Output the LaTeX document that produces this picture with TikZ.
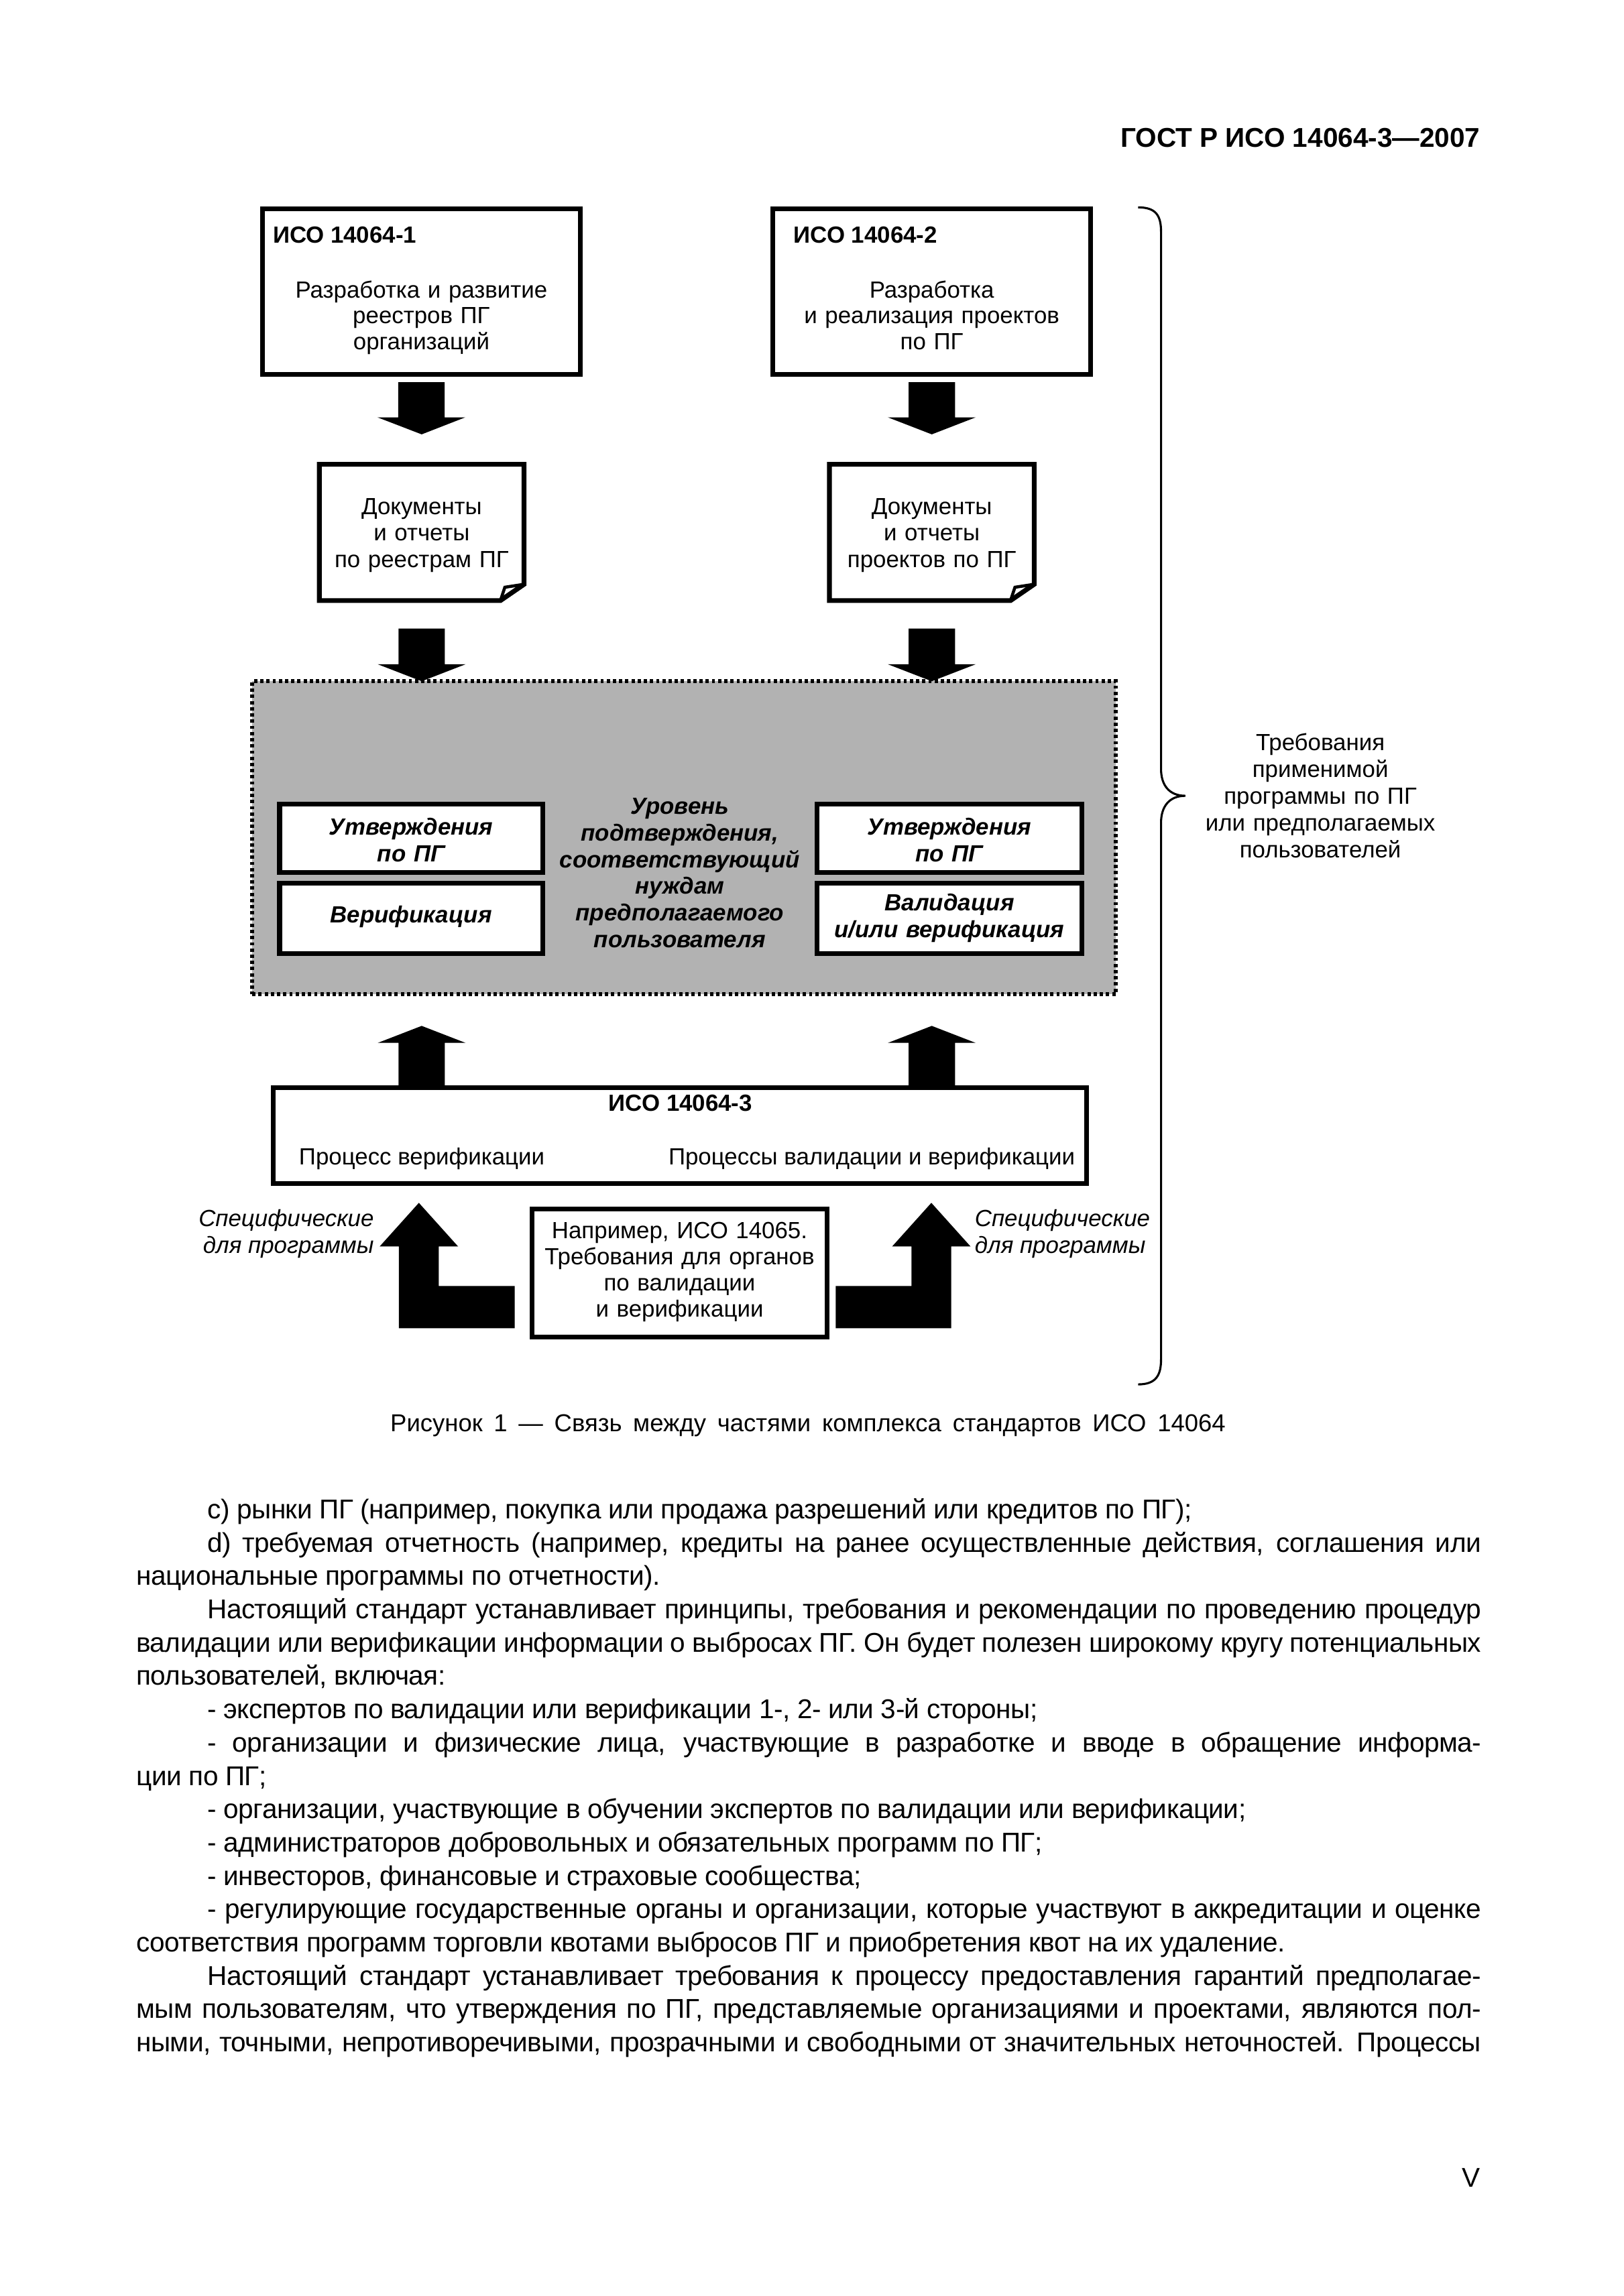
\documentclass[tikz,border=0pt]{standalone}
\usepackage{fontspec}
\setmainfont{Liberation Sans}
\newfontfamily\bodyfam[LetterSpace=-1.3]{Liberation Sans}
\usetikzlibrary{calc}

\definecolor{levelgray}{RGB}{178,178,178}
\newdimen\pxu
\pxu=0.190909mm
\newcommand\dfont{\fontsize{8.6}{9.8}\selectfont}
\newcommand\bodyfont{\bodyfam\fontsize{10}{12.26}\selectfont}
\newcommand\bodyindent{\hspace*{9.2mm}}
\newcommand\jl[1]{\hbox to\hsize{#1}}
\newcommand\lastl[1]{\hbox{#1}}
% block arrow: start, tip, signed head length
\newcommand\fatarrow[3]{%
  \fill let \p1=(#1), \p2=(#2) in
    (\x1-3mm,\y1) -- (\x1-3mm,\y2+#3) -- (\x1-5.68mm,\y2+#3) -- (\x2,\y2)
    -- (\x1+5.68mm,\y2+#3) -- (\x1+3mm,\y2+#3) -- (\x1+3mm,\y1) -- cycle;}

\tikzset{
  stdbox/.style={draw, line width=0.62mm, inner sep=0, outer sep=0},
  graybox/.style={draw, fill=levelgray, line width=0.5mm, dash pattern=on 0.42mm off 0.38mm, inner sep=0, outer sep=0},
  boxtext/.style={inner sep=0, font=\dfont, align=center, text width=45mm},
  doc/.style={line width=0.62mm, line join=miter},
}

\begin{document}
\begin{tikzpicture}[x=\pxu,y=-\pxu]
\fill[white] (0,0) rectangle (1100,1555.7);
\useasboundingbox (0,0) rectangle (1100,1555.7);

\node[anchor=base east, inner sep=0, font=\fontsize{10}{12}\selectfont\bfseries] (gost) at (1003,99.5) {ГОСТ Р ИСО 14064-3—2007};

% top boxes
\node[stdbox, minimum width=215.5*\pxu, minimum height=112.1*\pxu] (iso1) at (285.45,197.45) {};
\node[stdbox, minimum width=215.5*\pxu, minimum height=112.1*\pxu] (iso2) at (631.2,197.45) {};
\node[anchor=base west, inner sep=0, font=\dfont\bfseries] (iso1t) at (184.5,164.5) {ИСО 14064-1};
\node[anchor=base west, inner sep=0, font=\dfont\bfseries] (iso2t) at (537.3,164.5) {ИСО 14064-2};
\node[boxtext, anchor=base, font=\fontsize{8.6}{9.6}\selectfont] (iso1x) at (285.45,201.7) {Разработка и развитие\\реестров ПГ\\организаций};
\node[boxtext, anchor=base, font=\fontsize{8.6}{9.6}\selectfont] (iso2x) at (631.2,201.7) {Разработка\\и реализация проектов\\по ПГ};

% documents
\node[inner sep=0, outer sep=0, minimum width=138.7*\pxu, minimum height=92.3*\pxu] (docA) at (285.65,360.75) {};
\node[inner sep=0, outer sep=0, minimum width=138.7*\pxu, minimum height=92.3*\pxu] (docB) at (631.2,360.75) {};
\foreach \d in {docA,docB}{
  \draw[doc] (\d.north west) -- (\d.north east) -- ($(\d.south east)+(0,-11)$)
    -- ($(\d.south east)+(-16,0)$) -- (\d.south west) -- cycle;
  \draw[line width=0.4mm] ($(\d.south east)+(-16,0)$) -- ($(\d.south east)+(-13,-9)$) -- ($(\d.south east)+(0,-11)$);
}
\node[boxtext, anchor=base] (docAx) at (285.65,348.4) {Документы\\и отчеты\\по реестрам ПГ};
\node[boxtext, anchor=base] (docBx) at (631.2,348.4) {Документы\\и отчеты\\проектов по ПГ};

% level of assurance
\node[graybox, minimum width=585*\pxu, minimum height=212.1*\pxu] (level) at (463.4,567.65) {};
\node[stdbox, fill=white, minimum width=178.2*\pxu, minimum height=46.4*\pxu] (claimA) at (278.5,568.1) {};
\node[stdbox, fill=white, minimum width=178.2*\pxu, minimum height=47.6*\pxu] (verA) at (278.5,622.2) {};
\node[stdbox, fill=white, minimum width=179.5*\pxu, minimum height=46.4*\pxu] (claimB) at (643.15,568.1) {};
\node[stdbox, fill=white, minimum width=179.5*\pxu, minimum height=47.6*\pxu] (valB) at (643.15,622.2) {};
\node[boxtext, anchor=base, font=\dfont\bfseries\itshape] (levelx) at (460.5,551.7) {Уровень\\подтверждения,\\соответствующий\\нуждам\\предполагаемого\\пользователя};
\node[boxtext, anchor=base, font=\fontsize{8.6}{9.9}\selectfont\bfseries\itshape] (claimAx) at (278.5,565.5) {Утверждения\\по ПГ};
\node[boxtext, anchor=base, font=\dfont\bfseries\itshape] (verAx) at (278.5,625.3) {Верификация};
\node[boxtext, anchor=base, font=\fontsize{8.6}{9.9}\selectfont\bfseries\itshape] (claimBx) at (643.15,565.5) {Утверждения\\по ПГ};
\node[boxtext, anchor=base, font=\fontsize{8.6}{9.9}\selectfont\bfseries\itshape] (valBx) at (643.15,616.9) {Валидация\\и/или верификация};

% ISO 14064-3
\node[stdbox, minimum width=551*\pxu, minimum height=64.8*\pxu] (iso3) at (460.4,769.5) {};
\node[anchor=base, inner sep=0, font=\dfont\bfseries] (iso3t) at (461,753) {ИСО 14064-3};
\node[anchor=base west, inner sep=0, font=\dfont] (procA) at (202.2,789) {Процесс верификации};
\node[anchor=base east, inner sep=0, font=\dfont] (procB) at (728.5,789) {Процессы валидации и верификации};

% ISO 14065
\node[stdbox, minimum width=199.5*\pxu, minimum height=86.7*\pxu] (iso65) at (460.35,862.55) {};
\node[boxtext, anchor=base, font=\fontsize{8.6}{9.6}\selectfont] (iso65x) at (460.35,839.3) {Например, ИСО 14065.\\Требования для органов\\по валидации\\и верификации};
\node[anchor=base east, inner sep=0, font=\fontsize{8.6}{9.7}\selectfont\itshape, align=right] (specA) at (253.6,849) {Специфические\\для программы};
\node[anchor=base west, inner sep=0, font=\fontsize{8.6}{9.7}\selectfont\itshape, align=left] (specB) at (660,849) {Специфические\\для программы};

% block arrows
\fatarrow{$(iso1.south)+(0,5.5)$}{$(docA.north)+(0,-20.3)$}{2.2mm}
\fatarrow{$(iso2.south)+(0,5.5)$}{$(docB.north)+(0,-20.3)$}{2.2mm}
\fatarrow{$(docA.south)+(0,19)$}{docA.south |- level.north}{2.2mm}
\fatarrow{$(docB.south)+(0,19)$}{docB.south |- level.north}{2.2mm}
\fatarrow{docA.south |- iso3.north}{$(docA.south |- level.south)+(0,21.4)$}{-2.2mm}
\fatarrow{docB.south |- iso3.north}{$(docB.south |- level.south)+(0,21.4)$}{-2.2mm}
\fill (348.7,871.4) -- (348.7,900) -- (270.25,900) -- (270.25,844.6) -- (257.15,844.6)
  -- (283.75,815) -- (310.35,844.6) -- (297.25,844.6) -- (297.25,871.4) -- cycle;
\fill (566.1,871.4) -- (566.1,900) -- (644.4,900) -- (644.4,844.6) -- (657.5,844.6)
  -- (630.9,815) -- (604.3,844.6) -- (617.4,844.6) -- (617.4,871.4) -- cycle;

% brace
\draw[line width=0.27mm] (771,140.5) .. controls (783,140.5) and (786.5,146) .. (786.5,157)
  -- (786.5,521) .. controls (786.5,532) and (792,539.2) .. (803,539.2)
  .. controls (792,539.2) and (786.5,546.5) .. (786.5,557.5)
  -- (786.5,921) .. controls (786.5,932) and (783,938) .. (771,938);
\node[boxtext, anchor=base, font=\fontsize{8.6}{9.9}\selectfont] (req) at (894.4,508.4) {Требования\\применимой\\программы по ПГ\\или предполагаемых\\пользователей};

\node[anchor=base, inner sep=0, font=\fontsize{9}{11}\selectfont] (caption) at (547.3,970) {\makebox[108mm][s]{Рисунок 1 — Связь между частями комплекса стандартов ИСО 14064}};

% text
\node[anchor=base west, inner sep=0, font=\bodyfont] (body) at (92,1029) {\vtop{\hsize=173.9mm
\lastl{\bodyindent c) рынки ПГ (например, покупка или продажа разрешений или кредитов по ПГ);}
\jl{\bodyindent d) требуемая отчетность (например, кредиты на ранее осуществленные действия, соглашения или}
\lastl{национальные программы по отчетности).}
\jl{\bodyindent Настоящий стандарт устанавливает принципы, требования и рекомендации по проведению процедур}
\jl{валидации или верификации информации о выбросах ПГ. Он будет полезен широкому кругу потенциальных}
\lastl{пользователей, включая:}
\lastl{\bodyindent - экспертов по валидации или верификации 1-, 2- или 3-й стороны;}
\jl{\bodyindent - организации и физические лица, участвующие в разработке и вводе в обращение информа-}
\lastl{ции по ПГ;}
\lastl{\bodyindent - организации, участвующие в обучении экспертов по валидации или верификации;}
\lastl{\bodyindent - администраторов добровольных и обязательных программ по ПГ;}
\lastl{\bodyindent - инвесторов, финансовые и страховые сообщества;}
\jl{\bodyindent - регулирующие государственные органы и организации, которые участвуют в аккредитации и оценке}
\lastl{соответствия программ торговли квотами выбросов ПГ и приобретения квот на их удаление.}
\jl{\bodyindent Настоящий стандарт устанавливает требования к процессу предоставления гарантий предполагае-}
\jl{мым пользователям, что утверждения по ПГ, представляемые организациями и проектами, являются пол-}
\jl{ными, точными, непротиворечивыми, прозрачными и свободными от значительных неточностей. Процессы}
}};
\node[anchor=base east, inner sep=0, font=\bodyfont] (pagenum) at (1003,1482) {V};
\end{tikzpicture}
\end{document}
